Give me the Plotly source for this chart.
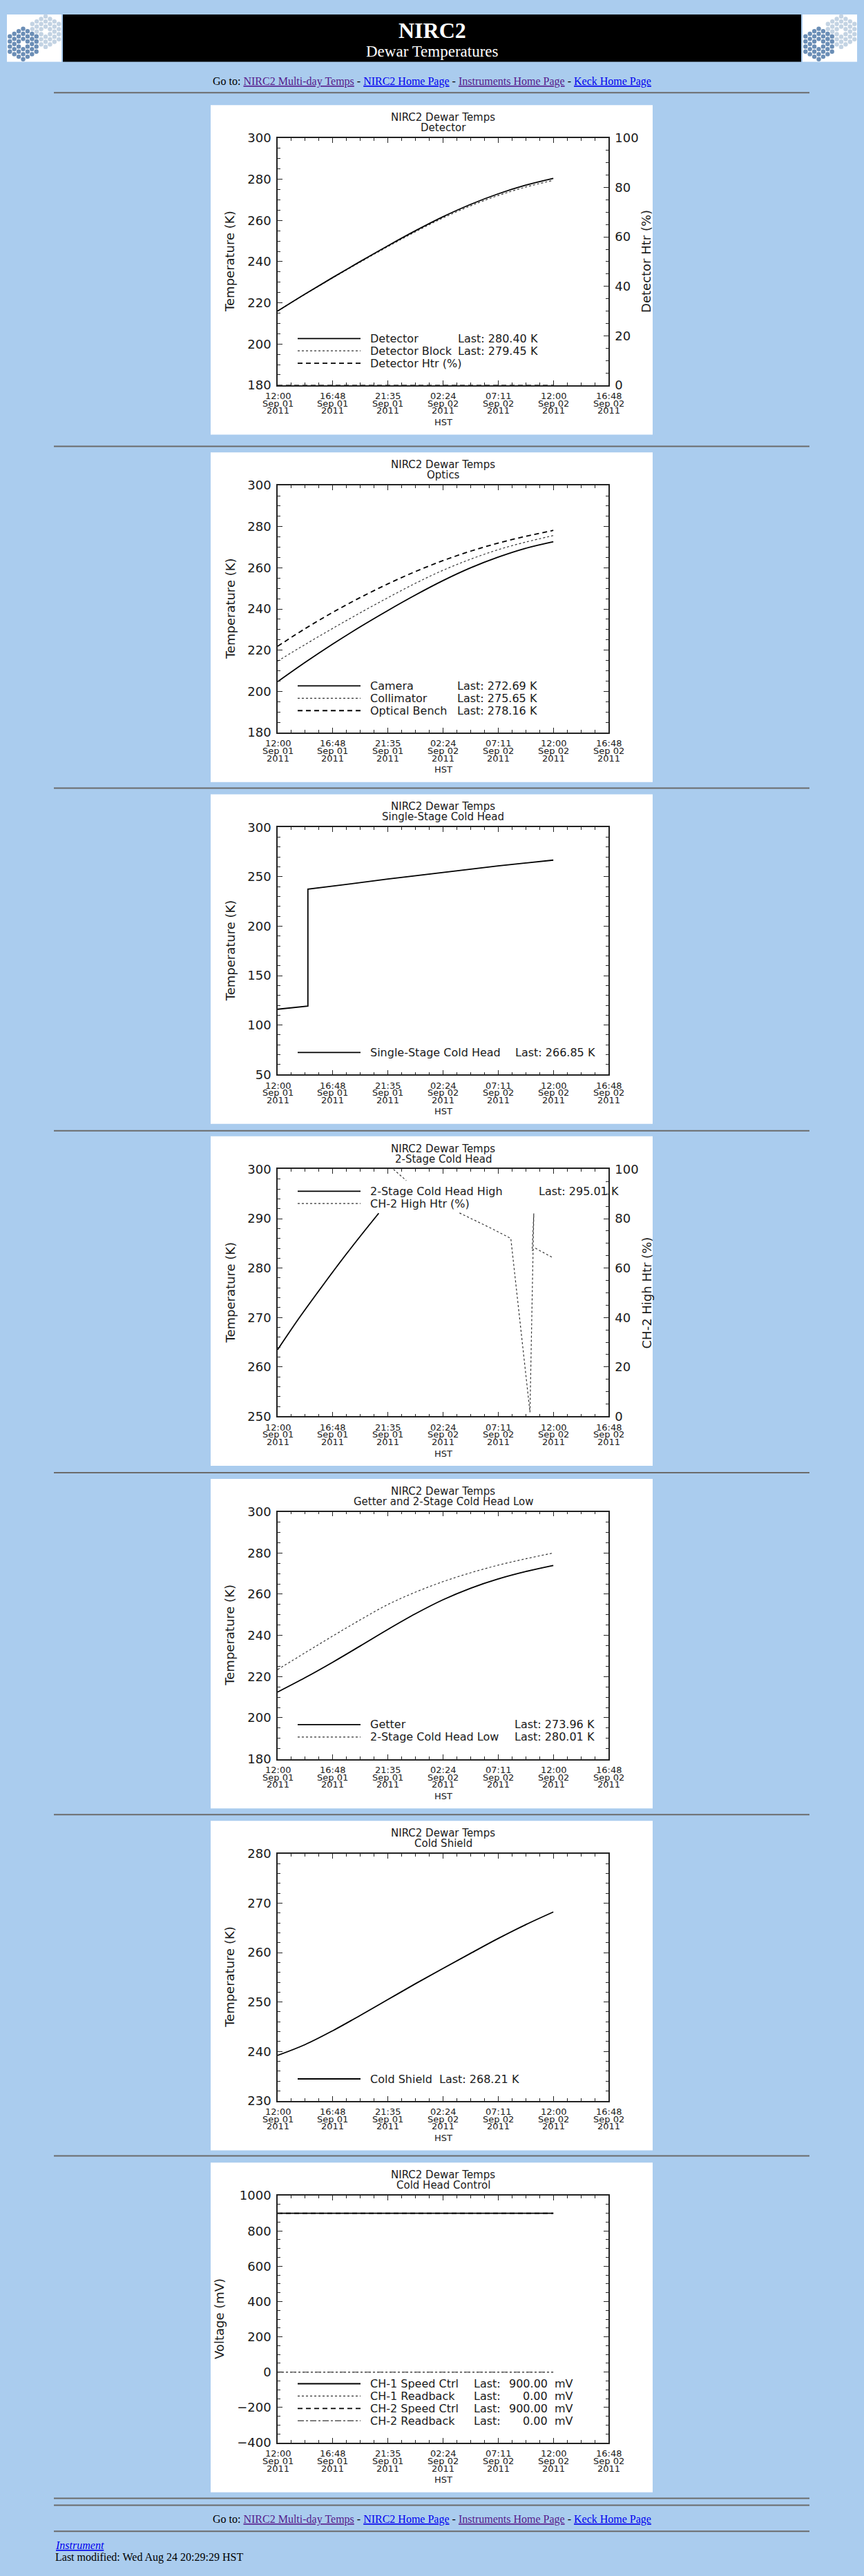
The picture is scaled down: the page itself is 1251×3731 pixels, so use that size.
import datetime as dt
import plotly.graph_objects as go

W, H = 1251, 3731
PAGE_BG = "#AACCEE"
INK = "#1a1a1a"
AX = "#222222"
CHART_FONT = "DejaVu Sans"
PAGE_FONT = "Liberation Serif"
VISITED = "#551A8B"
LINK = "#0000EE"

# ---------------- data ----------------
t_grid = ["2011-09-01 12:00", "2011-09-01 14:24", "2011-09-01 16:48", "2011-09-01 19:12",
          "2011-09-01 21:36", "2011-09-02 00:00", "2011-09-02 02:24", "2011-09-02 04:48",
          "2011-09-02 07:12", "2011-09-02 09:36", "2011-09-02 12:00"]

# Detector
detector = [216.0, 224.3, 232.3, 240.1, 247.7, 255.0, 261.8, 267.8, 272.9, 277.1, 280.40]
detector_block = [216.0, 224.2, 232.1, 239.8, 247.3, 254.5, 261.2, 267.1, 272.1, 276.2, 279.45]
t_det_htr = ["2011-09-01 12:00", "2011-09-02 12:00"]
detector_htr = [0.0, 0.0]

# Optics
camera = [204.7, 214.1, 223.0, 231.4, 239.3, 246.8, 253.8, 260.0, 265.2, 269.5, 272.69]
collimator = [214.7, 222.8, 230.6, 238.2, 245.5, 252.5, 258.8, 264.2, 268.8, 272.5, 275.65]
optical_bench = [221.9, 230.5, 238.4, 245.6, 252.2, 258.2, 263.5, 268.1, 272.0, 275.3, 278.16]

# Single-stage cold head
t_single = ["2011-09-01 12:00", "2011-09-01 14:38", "2011-09-01 14:38", "2011-09-01 16:48",
            "2011-09-01 21:36", "2011-09-02 02:24", "2011-09-02 07:12", "2011-09-02 12:00"]
single_stage = [116.0, 119.2, 237.5, 240.5, 247.7, 254.6, 261.0, 266.85]

# 2-stage cold head high + heater
t_ch2_high = ["2011-09-01 12:00", "2011-09-01 13:54", "2011-09-01 15:54", "2011-09-01 17:54",
              "2011-09-01 19:54", "2011-09-01 20:48"]
ch2_high = [263.5, 270.0, 276.4, 282.6, 288.5, 291.1]
t_ch2_htr = ["2011-09-01 22:05", "2011-09-01 23:12", "2011-09-02 01:30", "2011-09-02 03:50",
             "2011-09-02 06:33", "2011-09-02 08:18", "2011-09-02 09:58", "2011-09-02 10:18",
             "2011-09-02 10:09", "2011-09-02 10:27", "2011-09-02 12:00"]
ch2_htr = [100.0, 95.4, None, 82.3, 76.2, 72.0, 1.7, 82.1, 67.0, 68.0, 64.1]

# Getter and 2-stage cold head low
getter = [212.5, 219.5, 227.0, 234.9, 242.9, 250.5, 257.3, 262.9, 267.4, 271.0, 273.96]
ch2_low = [223.4, 231.6, 239.7, 247.6, 255.0, 261.0, 266.1, 270.4, 274.1, 277.2, 280.01]

# Cold shield
cold_shield = [239.2, 241.4, 244.2, 247.3, 250.5, 253.7, 256.8, 259.85, 262.85, 265.65, 268.21]

# Cold head control
t_ctrl = ["2011-09-01 12:00", "2011-09-02 12:00"]
ch1_speed = [900.0, 900.0]
ch1_readback = [0.0, 0.0]
ch2_speed = [900.0, 900.0]
ch2_readback = [0.0, 0.0]

# time axis
x_range = ["2011-09-01 12:00", "2011-09-02 16:48"]
tick_times = ["2011-09-01 12:00", "2011-09-01 16:48", "2011-09-01 21:36", "2011-09-02 02:24",
              "2011-09-02 07:12", "2011-09-02 12:00", "2011-09-02 16:48"]
tick_hm = ["12:00", "16:48", "21:35", "02:24", "07:11", "12:00", "16:48"]
tick_day = ["Sep 01", "Sep 01", "Sep 01", "Sep 02", "Sep 02", "Sep 02", "Sep 02"]
tick_year = ["2011"] * 7

# ---------------- page geometry ----------------
BOX_TOPS = [142, 648, 1146, 1644, 2143, 2641, 3139]
HR_Y = [124, 639, 1137, 1636, 2134, 2632, 3129, 3628, 3638, 3676]
PLOT_L, PLOT_R = 402, 881
BOX_L, BOX_R = 305, 945


def px(x):
    return x / W


def py(y):
    return 1 - y / H


SOLID = dict(color="black", width=1.8)
DOT = dict(color="#333333", width=1.2, dash="dot")
DASH = dict(color="black", width=1.8, dash="7px,5px")
DASH_ON_AXIS = dict(color="black", width=1.0, dash="7px,5px")
DASHDOT = dict(color="#333333", width=1.2, dash="dashdot")

panels = [
    dict(sub="Detector", ylabel="Temperature (K)", yrange=[180, 300], dtick=20, minor=5,
         series=[(t_grid, detector_block, DOT, "spline"), (t_grid, detector, SOLID, "spline")],
         right=dict(label="Detector Htr (%)", series=[(t_det_htr, detector_htr, DASH_ON_AXIS, "linear")]),
         legend=[("Detector", "Last: 280.40 K", SOLID),
                 ("Detector Block", "Last: 279.45 K", DOT),
                 ("Detector Htr (%)", "", DASH)],
         last_x=661, top_legend=False),
    dict(sub="Optics", ylabel="Temperature (K)", yrange=[180, 300], dtick=20, minor=5,
         series=[(t_grid, camera, SOLID, "spline"), (t_grid, collimator, DOT, "spline"),
                 (t_grid, optical_bench, DASH, "spline")],
         legend=[("Camera", "Last: 272.69 K", SOLID),
                 ("Collimator", "Last: 275.65 K", DOT),
                 ("Optical Bench", "Last: 278.16 K", DASH)],
         last_x=660, top_legend=False),
    dict(sub="Single-Stage Cold Head", ylabel="Temperature (K)", yrange=[50, 300], dtick=50, minor=10,
         series=[(t_single, single_stage, SOLID, "linear")],
         legend=[("Single-Stage Cold Head", "Last: 266.85 K", SOLID)],
         last_x=744, top_legend=False),
    dict(sub="2-Stage Cold Head", ylabel="Temperature (K)", yrange=[250, 300], dtick=10, minor=2,
         series=[(t_ch2_high, ch2_high, SOLID, "spline")],
         right=dict(label="CH-2 High Htr (%)", series=[(t_ch2_htr, ch2_htr, DOT, "linear")]),
         legend=[("2-Stage Cold Head High", "Last: 295.01 K", SOLID),
                 ("CH-2 High Htr (%)", "", DOT)],
         last_x=778, top_legend=True),
    dict(sub="Getter and 2-Stage Cold Head Low", ylabel="Temperature (K)", yrange=[180, 300], dtick=20, minor=5,
         series=[(t_grid, getter, SOLID, "spline"), (t_grid, ch2_low, DOT, "spline")],
         legend=[("Getter", "Last: 273.96 K", SOLID),
                 ("2-Stage Cold Head Low", "Last: 280.01 K", DOT)],
         last_x=743, top_legend=False),
    dict(sub="Cold Shield", ylabel="Temperature (K)", yrange=[230, 280], dtick=10, minor=2,
         series=[(t_grid, cold_shield, SOLID, "spline")],
         legend=[("Cold Shield", "Last: 268.21 K", SOLID)],
         last_x=634, top_legend=False),
    dict(sub="Cold Head Control", ylabel="Voltage (mV)", yrange=[-400, 1000], dtick=200, minor=50,
         series=[(t_ctrl, ch2_speed, DASH, "linear"), (t_ctrl, ch1_speed, SOLID, "linear"),
                 (t_ctrl, ch1_readback, DOT, "linear"), (t_ctrl, ch2_readback, DASHDOT, "linear")],
         legend=[("CH-1 Speed Ctrl", "900.00", SOLID),
                 ("CH-1 Readback", "0.00", DOT),
                 ("CH-2 Speed Ctrl", "900.00", DASH),
                 ("CH-2 Readback", "0.00", DASHDOT)],
         last_x=684, units="mV", top_legend=False, ylabel_x=317),
]

start = dt.datetime(2011, 9, 1, 12, 0)
minor_x = [(start + dt.timedelta(minutes=72 * k)).strftime("%Y-%m-%d %H:%M") for k in range(25)]

fig = go.Figure()
shapes = []
annotations = []
layout = {}


def chart_text(text, x, y, size, xanchor="center", xref="paper", angle=0):
    annotations.append(dict(text=text, x=x, y=y, xref=xref, yref="paper", showarrow=False,
                            xanchor=xanchor, yanchor="middle", textangle=angle,
                            font=dict(family=CHART_FONT, size=size, color=INK)))


def page_text(text, x, y, size, xanchor="center", color="black"):
    annotations.append(dict(text=text, x=px(x), y=py(y), xref="paper", yref="paper", showarrow=False,
                            xanchor=xanchor, yanchor="middle",
                            font=dict(family=PAGE_FONT, size=size, color=color)))


def tick_axis_common():
    return dict(ticks="inside", ticklen=7, tickwidth=1, tickcolor=AX,
                showline=True, linecolor=AX, linewidth=1.5,
                showgrid=False, zeroline=False, fixedrange=True)


right_k = 8
for i, p in enumerate(panels):
    k = i + 1
    s = "" if k == 1 else str(k)
    top_y = BOX_TOPS[i]
    plot_top = top_y + 48
    plot_bot = top_y + 408

    # white picture box
    shapes.append(dict(type="rect", xref="paper", yref="paper", x0=px(BOX_L), x1=px(BOX_R),
                       y0=py(top_y + 480), y1=py(top_y), fillcolor="white", line=dict(width=0),
                       layer="below"))

    xa = tick_axis_common()
    xa.update(domain=[px(PLOT_L), px(PLOT_R)], anchor="y" + s, type="date", range=x_range,
              tickmode="array", tickvals=tick_times, showticklabels=False, mirror="ticks",
              minor=dict(tickmode="array", tickvals=minor_x, ticks="inside", ticklen=4,
                         tickcolor=AX, tickwidth=1))
    layout["xaxis" + s] = xa

    ya = tick_axis_common()
    ya.update(domain=[py(plot_bot), py(plot_top)], anchor="x" + s, range=p["yrange"],
              tickmode="linear", tick0=0, dtick=p["dtick"],
              mirror=False if "right" in p else "ticks",
              tickfont=dict(family=CHART_FONT, size=18, color=INK), ticklabelstandoff=4,
              minor=dict(dtick=p["minor"], tick0=0, ticks="inside", ticklen=4, tickcolor=AX, tickwidth=1))
    layout["yaxis" + s] = ya

    for tx, ty, st, shp in p["series"]:
        fig.add_trace(go.Scatter(x=tx, y=ty, mode="lines", line=dict(shape=shp, **st),
                                 xaxis="x" + s, yaxis="y" + s, showlegend=False,
                                 hoverinfo="skip", connectgaps=False))

    if "right" in p:
        r = p["right"]
        ra = tick_axis_common()
        ra.update(overlaying="y" + s, side="right", anchor="x" + s, range=[0, 100],
                  tickmode="linear", tick0=0, dtick=20, mirror=False,
                  tickfont=dict(family=CHART_FONT, size=18, color=INK), ticklabelstandoff=4,
                  minor=dict(dtick=5, tick0=0, ticks="inside", ticklen=4, tickcolor=AX, tickwidth=1))
        layout["yaxis" + str(right_k)] = ra
        for tx, ty, st, shp in r["series"]:
            fig.add_trace(go.Scatter(x=tx, y=ty, mode="lines", line=dict(shape=shp, **st),
                                     xaxis="x" + s, yaxis="y" + str(right_k), showlegend=False,
                                     hoverinfo="skip", connectgaps=False))
        chart_text(r["label"], px(936), py((plot_top + plot_bot) / 2), 18, angle=-90)
        right_k += 1

    # titles
    chart_text("NIRC2 Dewar Temps", px((PLOT_L + PLOT_R) / 2), py(top_y + 18), 15)
    chart_text(p["sub"], px((PLOT_L + PLOT_R) / 2), py(top_y + 33), 15)
    chart_text(p["ylabel"], px(p.get("ylabel_x", 333)), py((plot_top + plot_bot) / 2), 18, angle=-90)

    # time labels, IDL style (three tight rows)
    for j, tv in enumerate(tick_times):
        chart_text(tick_hm[j], tv, py(plot_bot + 16), 13, xref="x" + s)
        chart_text(tick_day[j], tv, py(plot_bot + 26.7), 13, xref="x" + s)
        chart_text(tick_year[j], tv, py(plot_bot + 37.3), 13, xref="x" + s)
    chart_text("HST", px((PLOT_L + PLOT_R) / 2), py(plot_bot + 54), 13)

    # legend drawn inside the plot
    n = len(p["legend"])
    for j, (label, last, st) in enumerate(p["legend"]):
        if p["top_legend"]:
            ry = plot_top + 32 + 18 * j
        else:
            ry = plot_bot - 32 - 18 * (n - 1 - j)
        shapes.append(dict(type="line", xref="paper", yref="paper", x0=px(431), x1=px(522),
                           y0=py(ry), y1=py(ry), line=st))
        chart_text(label, px(534), py(ry), 16, xanchor="left")
        if "units" in p:
            chart_text("Last:", px(p["last_x"]), py(ry), 16, xanchor="left")
            chart_text(last, px(795), py(ry), 16, xanchor="right")
            chart_text(p["units"], px(801), py(ry), 16, xanchor="left")
        elif last:
            chart_text(last, px(p["last_x"]), py(ry), 16, xanchor="left")

# ---------------- page furniture ----------------
shapes.append(dict(type="rect", xref="paper", yref="paper", x0=px(91), x1=px(1160),
                   y0=py(79), y1=py(10), fillcolor="black", line=dict(width=0), layer="below"))


def logo(ox, oy):
    shapes.append(dict(type="rect", xref="paper", yref="paper", x0=px(ox), x1=px(ox + 79),
                       y0=py(oy + 69), y1=py(oy), fillcolor="white", line=dict(width=0), layer="below"))
    for (cx, cy, col) in [(ox + 56, oy + 25, "#C3D3E3"), (ox + 23.5, oy + 43, "#6B8EB6")]:
        for q in range(-3, 4):
            for rr in range(-3, 4):
                d = max(abs(q), abs(rr), abs(q + rr))
                if d == 0 or d > 3:
                    continue
                x = cx + q * 6.4
                y = cy + (rr + q / 2) * 7.4
                shapes.append(dict(type="circle", xref="paper", yref="paper",
                                   x0=px(x - 3.2), x1=px(x + 3.2), y0=py(y + 3.2), y1=py(y - 3.2),
                                   fillcolor=col, line=dict(width=0), layer="below"))


logo(10, 10)
logo(1162, 10)

for hy in HR_Y:
    shapes.append(dict(type="line", xref="paper", yref="paper", x0=px(78), x1=px(1172),
                       y0=py(hy), y1=py(hy), line=dict(color="#6b6b6b", width=2)))

page_text("<b>NIRC2</b>", 625.5, 33, 32, color="white")
page_text("Dewar Temperatures", 625.5, 64, 23, color="white")


def link(text, color):
    return f"<span style='color:{color};text-decoration:underline'>{text}</span>"


goto = ("Go to: " + link("NIRC2 Multi-day Temps", VISITED) + " - " + link("NIRC2 Home Page", LINK)
        + " - " + link("Instruments Home Page", VISITED) + " - " + link("Keck Home Page", LINK))
page_text(goto, 625.5, 108, 16)
page_text(goto, 625.5, 3659, 16)
page_text("<i>" + link("Instrument", LINK) + "</i>", 78, 3696, 16, xanchor="left")
page_text("Last modified: Wed Aug 24 20:29:29 HST", 78, 3714, 16, xanchor="left")

fig.update_layout(
    width=W, height=H, margin=dict(l=0, r=0, t=0, b=0), autosize=False,
    paper_bgcolor=PAGE_BG, plot_bgcolor="rgba(0,0,0,0)", showlegend=False,
    font=dict(family=CHART_FONT, color=INK),
    shapes=shapes, annotations=annotations, **layout,
)

fig.write_html("out.html", config={"displayModeBar": False},
               post_script="document.body.style.margin='0';document.body.style.background='#AACCEE';")
